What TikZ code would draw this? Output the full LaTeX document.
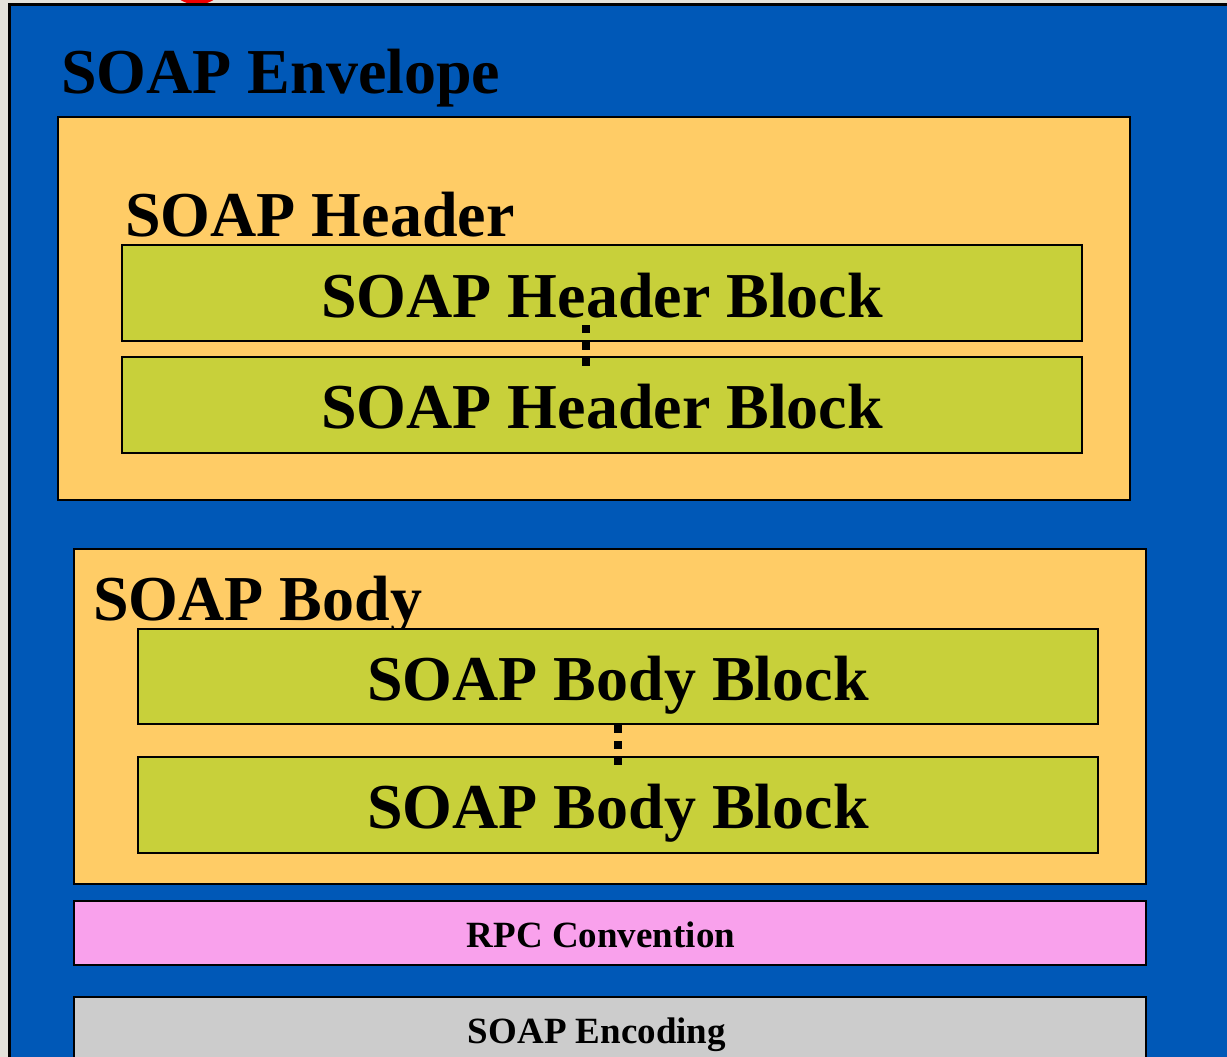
\documentclass[tikz,border=0pt]{standalone}
\usepackage{fontspec}
\setmainfont{Liberation Serif}
\definecolor{bggray}{RGB}{228,226,218}
\definecolor{envblue}{RGB}{0,88,183}
\definecolor{boxorange}{RGB}{255,204,102}
\definecolor{blockgreen}{RGB}{200,208,58}
\definecolor{rpcpink}{RGB}{249,161,236}
\definecolor{encgray}{RGB}{204,204,204}
\definecolor{dotred}{RGB}{240,0,0}
\tikzset{
  area/.style={draw=black, line width=2.5pt, inner sep=0pt, outer sep=0pt, anchor=north west},
  bigtext/.style={font=\fontsize{64}{64}\selectfont\bfseries, inner sep=0pt, text=black},
  smalltext/.style={font=\fontsize{37}{37}\selectfont\bfseries, inner sep=0pt, text=black},
  hellipsis/.style={line width=7.5pt, dash pattern=on 8pt off 8.5pt},
  bellipsis/.style={line width=7.5pt, dash pattern=on 8pt off 8pt}
}
\begin{document}
\begin{tikzpicture}[x=1pt,y=-1pt]
\useasboundingbox (0,0) rectangle (1227,1057);
\clip (0,0) rectangle (1227,1057);
\fill[bggray] (0,0) rectangle (1227,1057);
\fill[dotred] (197,-27) circle (31.6);
% envelope
\node[area, fill=envblue, line width=3pt, minimum width=1250pt, minimum height=1080pt] (env) at (9.5,4.5) {};
\node[bigtext, anchor=base west] (envlabel) at (61,93) {SOAP Envelope};
% header
\node[area, fill=boxorange, minimum width=1072pt, minimum height=383pt] (header) at (58,117) {};
\node[bigtext, anchor=base west] (headerlabel) at (125,236) {SOAP Header};
\node[area, fill=blockgreen, minimum width=960pt, minimum height=96pt] (hb1) at (122,245) {};
\node[area, fill=blockgreen, minimum width=960pt, minimum height=96pt] (hb2) at (122,357) {};
\node[bigtext, anchor=base] (hb1text) at (602,317) {SOAP Header Block};
\node[bigtext, anchor=base] (hb2text) at (602,428) {SOAP Header Block};
\draw[hellipsis] ([xshift=-16pt,yshift=16pt]hb1.south) -- ([xshift=-16pt,yshift=-9pt]hb2.north);
% body
\node[area, fill=boxorange, minimum width=1072pt, minimum height=335pt] (body) at (74,549) {};
\node[bigtext, anchor=base west] (bodylabel) at (93,620) {SOAP Body};
\node[area, fill=blockgreen, minimum width=960pt, minimum height=95pt] (bb1) at (138,629) {};
\node[area, fill=blockgreen, minimum width=960pt, minimum height=96pt] (bb2) at (138,757) {};
\node[bigtext, anchor=base] (bb1text) at (618,700) {SOAP Body Block};
\node[bigtext, anchor=base] (bb2text) at (618,828) {SOAP Body Block};
\draw[bellipsis] ([yshift=-1pt]bb1.south) -- ([yshift=-8pt]bb2.north);
% rpc and encoding
\node[area, fill=rpcpink, minimum width=1072pt, minimum height=64pt] (rpc) at (74,901) {};
\node[smalltext, anchor=base] (rpctext) at (601,947) {RPC Convention};
\node[area, fill=encgray, minimum width=1072pt, minimum height=100pt] (enc) at (74,997) {};
\node[smalltext, anchor=base] (enctext) at (597,1043) {SOAP Encoding};
\end{tikzpicture}
\end{document}
